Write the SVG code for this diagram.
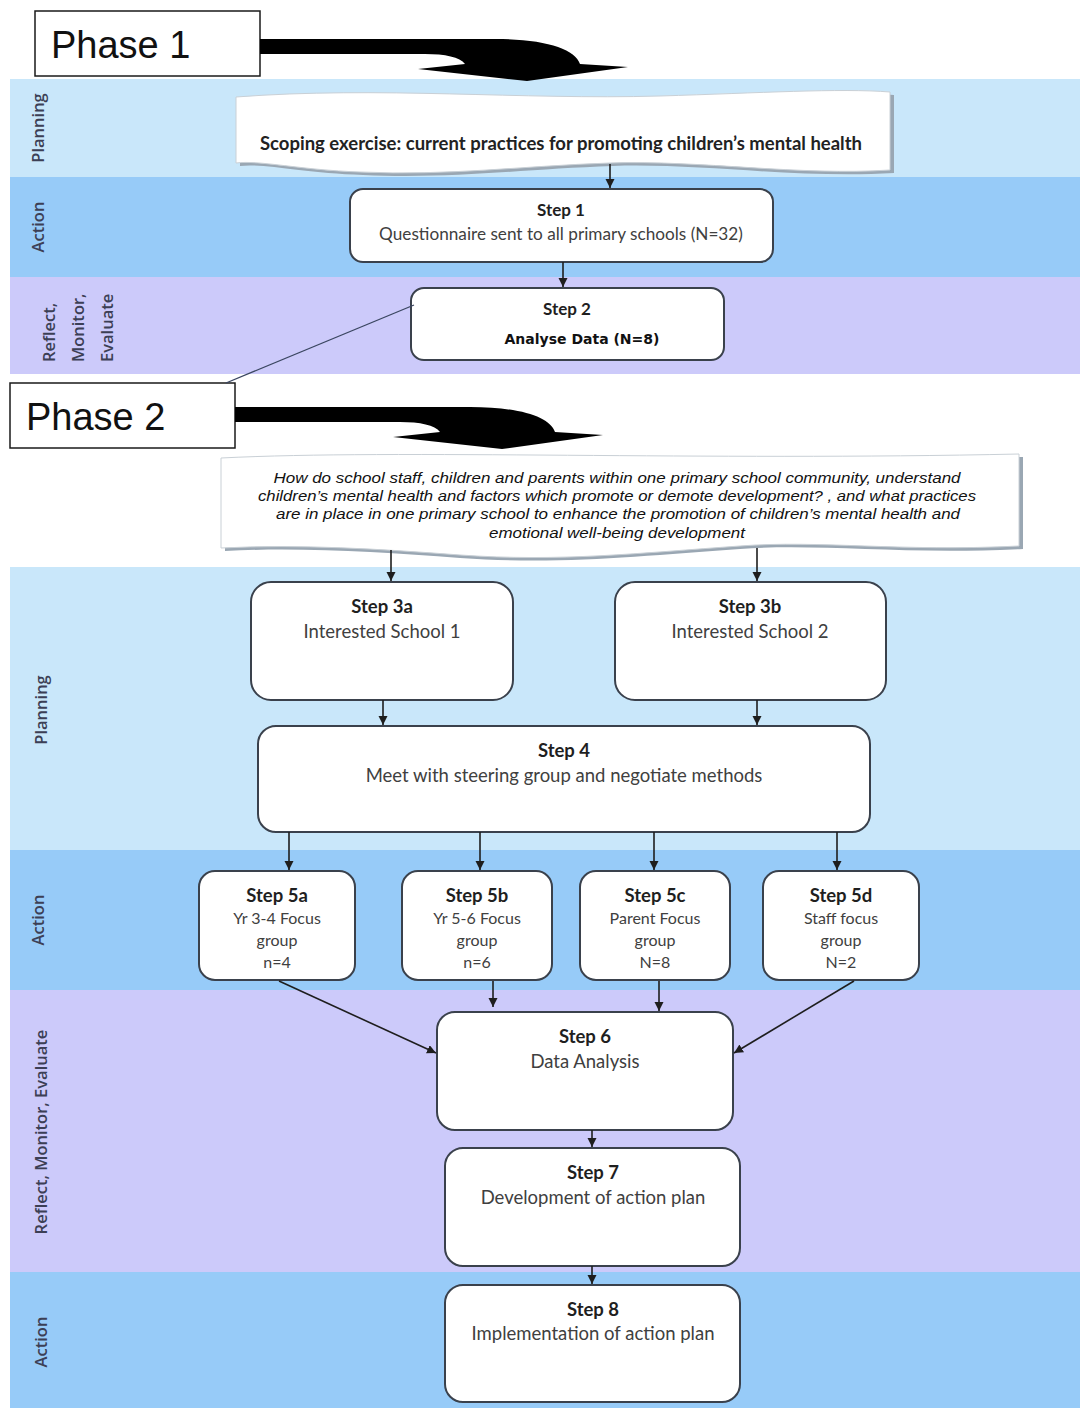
<svg xmlns="http://www.w3.org/2000/svg" width="1080" height="1408" viewBox="0 0 1080 1408">
  <defs>
    <style>
      .band-plan { fill: #c9e7fa; }
      .band-act { fill: #97cbf8; }
      .band-ref { fill: #cccafa; }
      .lane { font-family: "Open Sans", "Liberation Sans", sans-serif; font-size: 16.5px; font-weight: 600; fill: #3c3f55; text-anchor: middle; dominant-baseline: central; }
      .lane-s { font-family: "Open Sans", "Liberation Sans", sans-serif; font-size: 16.5px; font-weight: 600; fill: #3c3f55; text-anchor: start; dominant-baseline: central; }
      .phase-box { fill: #ffffff; stroke: #1a1a1a; stroke-width: 1.5; }
      .phase-txt { font-family: "Liberation Sans", Arial, sans-serif; font-size: 38px; fill: #111111; }
      .box { fill: #ffffff; stroke: #3a414c; stroke-width: 2; }
      .scroll { fill: #ffffff; stroke: #c9d0d6; stroke-width: 1; }
      .scroll-shadow { fill: #9aa7b3; }
      .title { font-family: Lato, "Liberation Sans", sans-serif; font-size: 18.5px; font-weight: 700; fill: #1f1f1f; text-anchor: middle; }
      .body { font-family: Lato, "Liberation Sans", sans-serif; font-size: 18.5px; fill: #404040; text-anchor: middle; }
      .body-m { font-family: Lato, "Liberation Sans", sans-serif; font-size: 17.3px; fill: #404040; text-anchor: middle; }
      .body-s { font-family: Lato, "Liberation Sans", sans-serif; font-size: 16px; fill: #404040; text-anchor: middle; }
      .q { font-family: "Liberation Sans", Arial, sans-serif; font-size: 14.5px; font-style: italic; fill: #111111; text-anchor: middle; }
      .conn { stroke: #1e1e1e; stroke-width: 1.6; fill: none; marker-end: url(#head); }
    </style>
    <marker id="head" markerUnits="userSpaceOnUse" markerWidth="10" markerHeight="10" refX="9" refY="4.5" orient="auto">
      <path d="M0,0 L9,4.5 L0,9 Z" fill="#1e1e1e"/>
    </marker>
    <!-- bent block arrow leaving a phase box -->
    <path id="bend-arrow" d="M0 24 L235 24 C285 24 315 34 320 49 L368 52 L267 66 L158 54 L205 49 C200 42 185 39 165 39 L0 39 Z" fill="#000000"/>
  </defs>

  <!-- swim-lane bands -->
  <g id="bands">
    <rect class="band-plan" x="10" y="79" width="1070" height="98"/>
    <rect class="band-act" x="10" y="177" width="1070" height="100"/>
    <rect class="band-ref" x="10" y="277" width="1070" height="97"/>
    <rect class="band-plan" x="10" y="567" width="1070" height="283"/>
    <rect class="band-act" x="10" y="850" width="1070" height="140"/>
    <rect class="band-ref" x="10" y="990" width="1070" height="282"/>
    <rect class="band-act" x="10" y="1272" width="1070" height="136"/>
  </g>

  <!-- lane labels -->
  <g id="lane-labels">
    <text class="lane" transform="translate(37 128) rotate(-90)">Planning</text>
    <text class="lane" transform="translate(37 227) rotate(-90)">Action</text>
    <text class="lane-s" transform="translate(48 362) rotate(-90)">Reflect,</text>
    <text class="lane-s" transform="translate(77 362) rotate(-90)">Monitor,</text>
    <text class="lane-s" transform="translate(106 362) rotate(-90)">Evaluate</text>
    <text class="lane" transform="translate(40 710) rotate(-90)">Planning</text>
    <text class="lane" transform="translate(37 920) rotate(-90)">Action</text>
    <text class="lane" transform="translate(40 1132) rotate(-90)">Reflect, Monitor, Evaluate</text>
    <text class="lane" transform="translate(40 1342) rotate(-90)">Action</text>
  </g>

  <!-- phase headers -->
  <g id="phase1">
    <rect class="phase-box" x="35" y="11" width="225" height="65"/>
    <text class="phase-txt" x="51" y="58">Phase 1</text>
    <use href="#bend-arrow" transform="translate(260 15)"/>
  </g>
  <g id="phase2">
    <rect class="phase-box" x="10" y="383" width="225" height="65"/>
    <text class="phase-txt" x="26" y="430">Phase 2</text>
    <use href="#bend-arrow" transform="translate(235 383)"/>
  </g>

  <!-- scoping banner -->
  <g id="scoping">
    <path class="scroll-shadow" d="M240 100 C380 89 520 103 660 99 C760 96 840 91 894 95 L894 173 C800 179 700 163 613 166 C523 169 453 179 363 175 C303 173 263 163 240 166 Z"/>
    <path class="scroll" d="M236 97 C380 86 520 100 660 96 C760 93 840 88 890 92 L890 170 C800 176 700 160 610 163 C520 166 450 176 360 172 C300 170 260 160 236 163 Z"/>
    <text x="561" y="150" font-family="Lato, 'Liberation Sans', sans-serif" font-size="18.5" font-weight="700" fill="#222222" text-anchor="middle">Scoping exercise: current practices for promoting children’s mental health</text>
  </g>

  <!-- research question banner -->
  <g id="question">
    <path class="scroll-shadow" d="M225 461 C400 452 700 464 1023 457 L1023 549 C900 555 820 543 740 549 C640 556 560 565 460 558 C380 552 300 547 225 551 Z"/>
    <path class="scroll" d="M221 458 C400 449 700 461 1019 454 L1019 546 C900 552 820 540 740 546 C640 553 560 562 460 555 C380 549 300 544 221 548 Z"/>
    <text class="q" x="617" y="483" textLength="687" lengthAdjust="spacingAndGlyphs">How do school staff, children and parents within one primary school community, understand</text>
    <text class="q" x="617" y="501" textLength="718" lengthAdjust="spacingAndGlyphs">children’s mental health and factors which promote or demote development? , and what practices</text>
    <text class="q" x="618" y="519" textLength="684" lengthAdjust="spacingAndGlyphs">are in place in one primary school to enhance the promotion of children’s  mental health and</text>
    <text class="q" x="617" y="538" textLength="256" lengthAdjust="spacingAndGlyphs">emotional well-being development</text>
  </g>

  <!-- steps -->
  <g id="step1">
    <rect class="box" x="350" y="189" width="423" height="73" rx="13"/>
    <text class="title" x="561" y="216" style="font-size:17px">Step 1</text>
    <text class="body-s" x="561" y="240" style="font-size:17.2px">Questionnaire sent to all primary schools (N=32)</text>
  </g>
  <g id="step2">
    <rect class="box" x="411" y="288" width="313" height="72" rx="13"/>
    <text class="title" x="567" y="315" style="font-size:17px">Step 2</text>
    <text x="582" y="344" font-family="'DejaVu Sans', 'Liberation Sans', sans-serif" font-size="14" font-weight="700" fill="#111111" text-anchor="middle">Analyse Data (N=8)</text>
  </g>
  <g id="step3a">
    <rect class="box" x="251" y="582" width="262" height="118" rx="20"/>
    <text class="title" x="382" y="613">Step 3a</text>
    <text class="body" x="382" y="638">Interested School 1</text>
  </g>
  <g id="step3b">
    <rect class="box" x="615" y="582" width="271" height="118" rx="20"/>
    <text class="title" x="750" y="613">Step 3b</text>
    <text class="body" x="750" y="638">Interested School 2</text>
  </g>
  <g id="step4">
    <rect class="box" x="258" y="726" width="612" height="106" rx="18"/>
    <text class="title" x="564" y="757">Step 4</text>
    <text class="body" x="564" y="782">Meet with steering group and negotiate methods</text>
  </g>
  <g id="step5a">
    <rect class="box" x="199" y="871" width="156" height="109" rx="16"/>
    <text class="title" x="277" y="902">Step 5a</text>
    <text class="body-s" x="277" y="924">Yr 3-4 Focus</text>
    <text class="body-s" x="277" y="946">group</text>
    <text class="body-s" x="277" y="968">n=4</text>
  </g>
  <g id="step5b">
    <rect class="box" x="402" y="871" width="150" height="109" rx="16"/>
    <text class="title" x="477" y="902">Step 5b</text>
    <text class="body-s" x="477" y="924">Yr 5-6 Focus</text>
    <text class="body-s" x="477" y="946">group</text>
    <text class="body-s" x="477" y="968">n=6</text>
  </g>
  <g id="step5c">
    <rect class="box" x="580" y="871" width="150" height="109" rx="16"/>
    <text class="title" x="655" y="902">Step 5c</text>
    <text class="body-s" x="655" y="924">Parent Focus</text>
    <text class="body-s" x="655" y="946">group</text>
    <text class="body-s" x="655" y="968">N=8</text>
  </g>
  <g id="step5d">
    <rect class="box" x="763" y="871" width="156" height="109" rx="16"/>
    <text class="title" x="841" y="902">Step 5d</text>
    <text class="body-s" x="841" y="924">Staff focus</text>
    <text class="body-s" x="841" y="946">group</text>
    <text class="body-s" x="841" y="968">N=2</text>
  </g>
  <g id="step6">
    <rect class="box" x="437" y="1012" width="296" height="118" rx="18"/>
    <text class="title" x="585" y="1043">Step 6</text>
    <text class="body" x="585" y="1068">Data Analysis</text>
  </g>
  <g id="step7">
    <rect class="box" x="445" y="1148" width="295" height="118" rx="18"/>
    <text class="title" x="593" y="1179">Step 7</text>
    <text class="body" x="593" y="1204">Development of action plan</text>
  </g>
  <g id="step8">
    <rect class="box" x="445" y="1285" width="295" height="117" rx="18"/>
    <text class="title" x="593" y="1316">Step 8</text>
    <text class="body" x="593" y="1340">Implementation of action plan</text>
  </g>

  <!-- connectors -->
  <g id="connectors">
    <line class="conn" x1="610" y1="164" x2="610" y2="188"/>
    <line class="conn" x1="563" y1="262" x2="563" y2="287"/>
    <line x1="414" y1="305" x2="226" y2="383" stroke="#3a4660" stroke-width="1.3"/>
    <line class="conn" x1="391" y1="550" x2="391" y2="581"/>
    <line class="conn" x1="757" y1="548" x2="757" y2="581"/>
    <line class="conn" x1="383" y1="700" x2="383" y2="725"/>
    <line class="conn" x1="757" y1="700" x2="757" y2="725"/>
    <line class="conn" x1="289" y1="832" x2="289" y2="870"/>
    <line class="conn" x1="480" y1="832" x2="480" y2="870"/>
    <line class="conn" x1="654" y1="832" x2="654" y2="870"/>
    <line class="conn" x1="837" y1="832" x2="837" y2="870"/>
    <line class="conn" x1="279" y1="981" x2="436" y2="1053"/>
    <line class="conn" x1="493" y1="981" x2="493" y2="1007"/>
    <line class="conn" x1="659" y1="981" x2="659" y2="1011"/>
    <line class="conn" x1="854" y1="981" x2="734" y2="1053"/>
    <line class="conn" x1="592" y1="1130" x2="592" y2="1147"/>
    <line class="conn" x1="592" y1="1266" x2="592" y2="1284"/>
  </g>
</svg>
